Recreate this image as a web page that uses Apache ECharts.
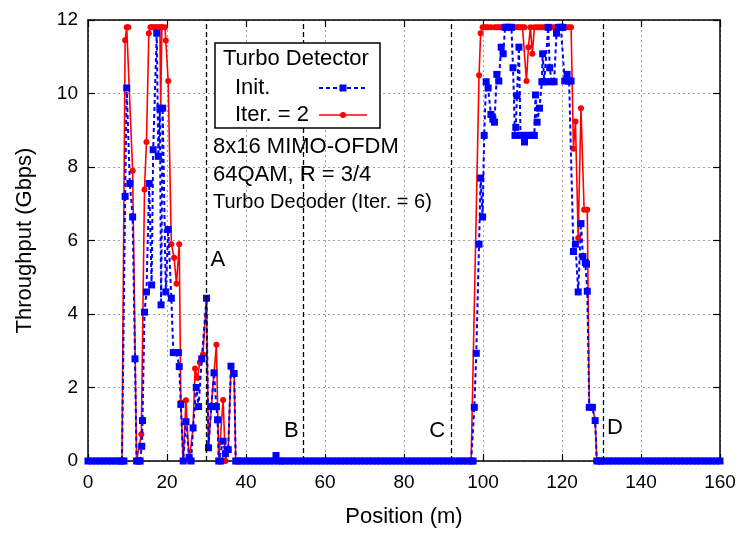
<!DOCTYPE html>
<html><head><meta charset="utf-8">
<script src="https://cdn.jsdelivr.net/npm/echarts@6.0.0/dist/echarts.min.js"></script>
<style>html,body{margin:0;padding:0;background:#fff}#c{width:739px;height:533px}</style>
</head><body><div id="c"></div><script>
// Position (m)
const positions = [
  0,1,2,3,4,5,6,7,8,8.6,9.1,
  9.4,9.8,10.2,10.6,11.3,11.9,12.3,12.8,13.2,13.5,13.6,13.8,
  14.3,14.8,15.4,15.5,15.8,16.1,16.5,17.0,17.4,17.8,18.2,18.4,18.5,18.7,18.9,19.5,19.7,20.3,
  21.1,21.6,21.8,22.4,22.9,23.1,23.5,24.1,24.8,25.6,26.1,26.6,
  27.1,27.4,27.7,28.0,28.3,28.8,29.1,30.0,30.5,31.2,31.9,32.5,32.8,
  33.1,33.6,34.2,34.8,35.5,36.2,37.0,37.4,
  38,39,40,41,42,43,44,45,46,47,47.6,48.3,
  49,50,51,52,53,54,55,56,57,58,
  59,60,61,62,63,64,65,66,67,68,
  69,70,71,72,73,74,75,76,77,78,
  79,80,81,82,83,84,85,86,87,88,
  89,90,91,92,93,94,95,96,97,
  97.5,97.8,98.3,99.0,99.4,99.9,100.3,100.8,101.3,102.0,102.5,102.9,
  103.5,104.0,104.6,105.1,105.6,106.1,106.6,107.2,107.6,108.1,108.3,108.6,
  109.1,109.5,110.0,110.5,111.0,111.5,112.0,112.5,113.0,113.3,113.7,114.3,
  114.9,115.1,115.5,116.0,116.5,116.9,117.4,118.0,118.6,119.1,119.7,120.2,
  120.7,121.3,121.8,122.3,122.9,123.4,124.1,124.8,125.3,125.6,125.9,126.2,
  126.4,126.9,127.7,128.4,128.8,129.5,
  130,131,132,133,134,135,136,137,138,139,
  140,141,142,143,144,145,146,147,148,149,
  150,151,152,153,154,155,156,157,158,159,160
];
// Throughput (Gbps), turbo detector initial pass (null = no sample)
const initValues = [
  0,0,0,0,0,0,0,0,0,0,0,
  7.2,10.15,null,7.55,6.64,2.78,0,0,0,null,0.4,1.1,
  4.05,4.6,null,7.55,null,4.79,8.47,null,11.64,8.29,9.6,null,4.25,null,9.6,null,4.6,6.3,
  4.43,2.95,null,2.95,2.95,2.57,1.54,0,1.07,0.1,0,0.9,
  null,2.0,null,1.48,null,2.78,null,4.43,0.36,1.48,2.4,1.48,1.12,
  0,0,0.54,0.2,0.31,2.58,2.38,0,
  0,0,0,0,0,0,0,0,0,0,0.15,0,
  0,0,0,0,0,0,0,0,0,0,
  0,0,0,0,0,0,0,0,0,0,
  0,0,0,0,0,0,0,0,0,0,
  0,0,0,0,0,0,0,0,0,0,
  0,0,0,0,0,0,0,0,0,
  0,1.46,2.93,5.9,7.7,6.64,8.86,10.32,10.15,9.43,9.3,9.22,
  10.52,10.34,11.26,11.08,11.8,11.8,11.8,11.8,10.7,8.86,9.08,9.94,
  11.26,8.86,8.86,8.68,8.86,8.86,8.86,8.86,8.86,9.96,9.22,9.6,
  10.32,11.08,10.32,10.32,11.8,10.7,10.32,10.32,11.64,11.8,11.8,11.8,
  10.34,10.52,10.34,10.34,5.7,5.9,4.6,6.46,5.56,null,5.4,5.36,
  4.62,1.46,1.46,1.1,0,0,
  0,0,0,0,0,0,0,0,0,0,
  0,0,0,0,0,0,0,0,0,0,
  0,0,0,0,0,0,0,0,0,0,0
];
// Throughput (Gbps), turbo detector Iter. = 2
const iterValues = [
  0,0,0,0,0,0,0,0,0,0,0,
  11.45,11.8,11.8,null,7.9,null,0,0,null,0.73,null,null,
  7.39,8.68,11.64,null,11.8,11.8,11.8,11.8,11.8,11.8,11.8,9.6,null,11.8,11.8,11.8,11.44,10.34,
  5.9,null,5.53,4.82,null,5.9,1.6,0,1.65,0,0,0.9,
  2.52,null,2.26,null,2.68,null,2.9,4.43,0.36,1.48,null,3.16,null,
  0,0,1.66,0,0.31,2.58,2.38,0,
  0,0,0,0,0,0,0,0,0,0,0,0,
  0,0,0,0,0,0,0,0,0,0,
  0,0,0,0,0,0,0,0,0,0,
  0,0,0,0,0,0,0,0,0,0,
  0,0,0,0,0,0,0,0,0,0,
  0,0,0,0,0,0,0,0,0,
  0,null,null,10.5,11.64,11.8,11.8,11.8,11.8,11.8,null,11.8,
  11.8,11.8,11.8,11.8,11.8,11.8,11.8,11.8,11.8,11.8,null,11.8,
  11.8,11.8,11.8,11.8,10.34,11.26,11.8,11.08,11.8,null,11.8,11.8,
  11.8,null,11.8,11.8,11.8,11.8,11.8,11.8,11.8,11.8,11.8,11.8,
  11.8,11.8,11.8,11.8,8.5,9.24,6.07,9.6,null,6.84,null,null,
  6.84,1.46,1.46,1.1,0,0,
  0,0,0,0,0,0,0,0,0,0,
  0,0,0,0,0,0,0,0,0,0,
  0,0,0,0,0,0,0,0,0,0,0
];
// reference positions A-D
const markerPositions = [30, 54.5, 92, 130.5];
const markerNames = ['A', 'B', 'C', 'D'];
const markerLabelX = [32.9, 51.5, 88.4, 133.4];
const markerLabelY = [5.47, 0.82, 0.82, 0.9];
const seriesNames = ['Init.', 'Iter. = 2'];
const legendTitle = 'Turbo Detector';
const notes = ['8x16 MIMO-OFDM', '64QAM, R = 3/4', 'Turbo Decoder (Iter. = 6)'];

if (positions.length !== initValues.length || positions.length !== iterValues.length) {
  throw new Error('length mismatch ' + positions.length + ' ' + initValues.length + ' ' + iterValues.length);
}
const toData = vals => positions.map((x, i) => [x, vals[i]]).filter(p => p[1] !== null);

const FONT = '"Liberation Sans", Arial, Helvetica, sans-serif';
const BLUE = '#0000ff', RED = '#ff0000';
const chart = echarts.init(document.getElementById('c'), null, {renderer: 'canvas'});

const gridSplit = {show: true, lineStyle: {color: '#a0a0a0', width: 1, type: [2, 3]}};
const axLine = {show: true, onZero: false, lineStyle: {color: '#000', width: 1.5}};
const axTick = {show: true, inside: true, length: 7, lineStyle: {color: '#000', width: 1.2}};

const staticGraphics = [
  {type: 'rect', z: 100, shape: {x: 215, y: 43, width: 165, height: 85},
   style: {fill: '#fff', stroke: '#000', lineWidth: 1.5}},
  {type: 'text', z: 101, style: {x: 223, y: 59, text: legendTitle, font: '22px ' + FONT, fill: '#000', verticalAlign: 'middle'}},
  {type: 'text', z: 101, style: {x: 235, y: 88, text: seriesNames[0], font: '22px ' + FONT, fill: '#000', verticalAlign: 'middle'}},
  {type: 'text', z: 101, style: {x: 235, y: 115, text: seriesNames[1], font: '22px ' + FONT, fill: '#000', verticalAlign: 'middle'}},
  {type: 'line', z: 101, shape: {x1: 319, y1: 88, x2: 367, y2: 88}, style: {stroke: BLUE, lineWidth: 2, lineDash: [4, 3]}},
  {type: 'rect', z: 102, shape: {x: 339.5, y: 84.5, width: 7, height: 7}, style: {fill: BLUE}},
  {type: 'line', z: 101, shape: {x1: 319, y1: 115, x2: 367, y2: 115}, style: {stroke: RED, lineWidth: 1.6}},
  {type: 'circle', z: 102, shape: {cx: 343, cy: 115, r: 3}, style: {fill: RED}},
  {type: 'text', z: 101, style: {x: 213, y: 147, text: notes[0], font: '22px ' + FONT, fill: '#000', verticalAlign: 'middle'}},
  {type: 'text', z: 101, style: {x: 213, y: 175, text: notes[1], font: '22px ' + FONT, fill: '#000', verticalAlign: 'middle'}},
  {type: 'text', z: 101, style: {x: 213, y: 202, text: notes[2], font: '20px ' + FONT, fill: '#000', verticalAlign: 'middle'}}
];

chart.setOption({
  animation: false,
  backgroundColor: '#fff',
  grid: {left: 88, right: 19, top: 20, bottom: 68, containLabel: false},
  xAxis: [
    {type: 'value', min: 0, max: 160, interval: 20, position: 'bottom',
     axisLine: axLine, axisTick: axTick, splitLine: gridSplit,
     axisLabel: {fontSize: 19, color: '#000', margin: 12, fontFamily: FONT},
     name: 'Position (m)', nameLocation: 'middle', nameGap: 45,
     nameTextStyle: {fontSize: 22, color: '#000', fontFamily: FONT}},
    {type: 'value', min: 0, max: 160, interval: 20, position: 'top',
     axisLine: axLine, axisTick: axTick, splitLine: {show: false}, axisLabel: {show: false}}
  ],
  yAxis: [
    {type: 'value', min: 0, max: 12, interval: 2, position: 'left',
     axisLine: axLine, axisTick: axTick, splitLine: gridSplit,
     axisLabel: {fontSize: 19, color: '#000', margin: 10, fontFamily: FONT},
     name: 'Throughput (Gbps)', nameLocation: 'middle', nameGap: 52, nameRotate: 90,
     nameTextStyle: {fontSize: 22, color: '#000', fontFamily: FONT}},
    {type: 'value', min: 0, max: 12, interval: 2, position: 'right',
     axisLine: axLine, axisTick: axTick, splitLine: {show: false}, axisLabel: {show: false}}
  ],
  series: [
    {
      name: 'markers', type: 'line', data: [], silent: true,
      markLine: {
        silent: true, symbol: ['none', 'none'], animation: false,
        label: {show: false},
        lineStyle: {color: '#000', width: 1.3, type: [5, 3]},
        data: markerPositions.map(x => ({xAxis: x}))
      }
    },
    {
      name: seriesNames[1], type: 'line', data: toData(iterValues), z: 3,
      symbol: 'circle', symbolSize: 6, showAllSymbol: true,
      lineStyle: {color: RED, width: 1.6},
      itemStyle: {color: RED, borderWidth: 0}
    },
    {
      name: seriesNames[0], type: 'line', data: toData(initValues), z: 4,
      symbol: 'rect', symbolSize: 7, showAllSymbol: true,
      lineStyle: {color: BLUE, width: 2, type: [4, 3]},
      itemStyle: {color: BLUE, borderWidth: 0}
    }
  ],
  graphic: staticGraphics
});

// position-label texts placed through the chart's own scales
const labelGraphics = markerNames.map((n, i) => {
  const p = chart.convertToPixel({gridIndex: 0}, [markerLabelX[i], markerLabelY[i]]);
  return {type: 'text', z: 101, style: {x: p[0], y: p[1], text: n, font: '22px ' + FONT,
          fill: '#000', align: 'center', verticalAlign: 'middle'}};
});
chart.setOption({graphic: staticGraphics.concat(labelGraphics)});
</script></body></html>
